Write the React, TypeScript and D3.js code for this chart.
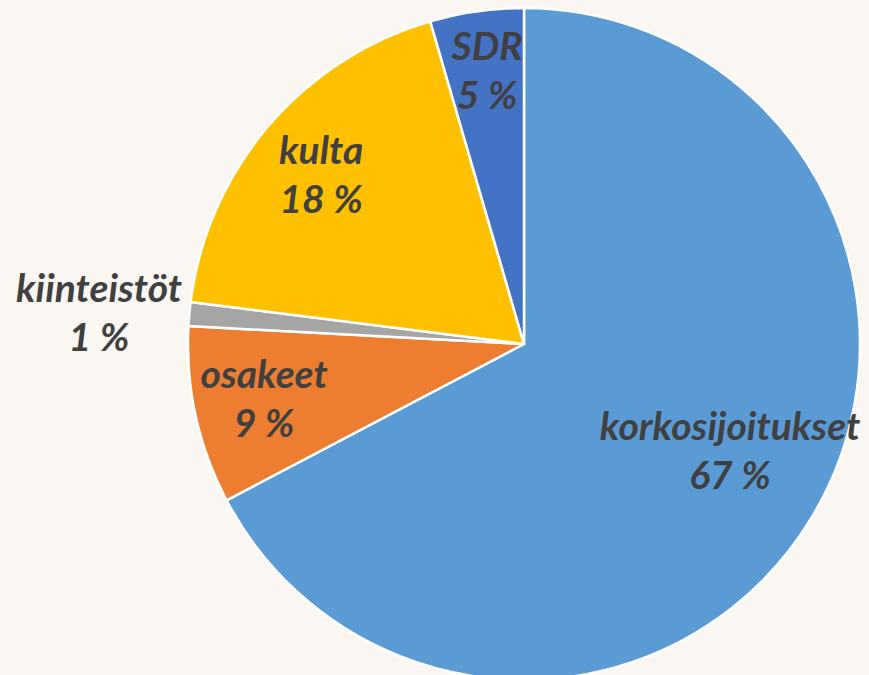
import React from "react";
import * as d3 from "d3";

const categories = ["korkosijoitukset", "osakeet", "kiinteistöt", "kulta", "SDR"];
const values = [67.3, 8.55, 1.15, 18.5, 4.5];
const percentLabels = ["67 %", "9 %", "1 %", "18 %", "5 %"];
const colors = ["#5B9BD5", "#ED7D31", "#A5A5A5", "#FFC000", "#4472C4"];

const W = 869;
const H = 675;
const CX = 524;
const CY = 344;
const R = 336;
// label placement (layout, not data): polar angle in degrees and distance as a fraction of radius
const labelAngleDeg = [120.4, 255.2, 272.4, 307.4, 351.9];
const labelRadiusFactor = [0.711, 0.8, 1.266, 0.76, 0.779];

export default function App() {
  const pie = d3.pie<number>().sort(null).value((d) => d);
  const arcs = pie(values);
  const arc = d3.arc<d3.PieArcDatum<number>>().innerRadius(0).outerRadius(R);
  const fontSize = 39;
  const lineGap = 49;

  return (
    <svg
      width={W}
      height={H}
      style={{ position: "absolute", left: 0, top: 0, display: "block", background: "#FAF6F1" }}
    >
      <rect x={0} y={0} width={W} height={H} fill="#FAF6F1" />
      <g transform={`translate(${CX},${CY})`}>
        {arcs.map((a, i) => (
          <path key={i} d={arc(a) || ""} fill={colors[i]} stroke="#FFFFFF" strokeWidth={2.5} strokeLinejoin="round" />
        ))}
        {arcs.map((a, i) => {
          const ang = (labelAngleDeg[i] * Math.PI) / 180;
          const r = R * labelRadiusFactor[i];
          const x = Math.sin(ang) * r;
          const y = -Math.cos(ang) * r;
          return (
            <text
              key={"t" + i}
              textAnchor="middle"
              fontFamily="Lato, 'Open Sans', sans-serif"
              fontWeight="bold"
              fontStyle="italic"
              fontSize={fontSize}
              fill="#404040"
            >
              <tspan x={x} y={y - lineGap / 2}>{categories[i]}</tspan>
              <tspan x={x} y={y + lineGap / 2}>{percentLabels[i]}</tspan>
            </text>
          );
        })}
      </g>
    </svg>
  );
}
